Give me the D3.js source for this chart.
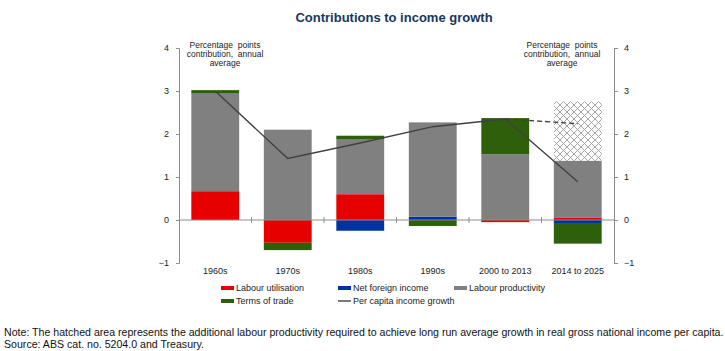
<!DOCTYPE html>
<html><head><meta charset="utf-8">
<script src="https://cdn.jsdelivr.net/npm/d3@7"></script>
<style>body{margin:0;background:#fff}svg{display:block}</style>
</head><body>
<script>
const categories = ["1960s","1970s","1980s","1990s","2000 to 2013","2014 to 2025"];
const labourUtilisation = [0.67, -0.53, 0.60, 0, -0.05, 0.06];
const netForeignIncome = [0, 0, -0.25, 0.08, 0, -0.09];
const labourProductivity = [2.27, 2.10, 1.27, 2.19, 1.53, 1.32];
const termsOfTrade = [0.08, -0.17, 0.09, -0.14, 0.84, -0.46];
const additionalProductivity = [0, 0, 0, 0, 0, 1.38];
const perCapitaGrowth = [3.0, 1.43, 1.79, 2.17, 2.35, 0.89];
const longRunPath = [null, null, null, null, 2.35, 2.24];
const yTicks = [-1, 0, 1, 2, 3, 4];

const W = 725, H = 351;
const font = "'Liberation Sans', Arial, sans-serif";
const svg = d3.select("body").append("svg").attr("width", W).attr("height", H)
  .style("font-family", font);

const defs = svg.append("defs");
const pat = defs.append("pattern").attr("id","hatch").attr("patternUnits","userSpaceOnUse")
  .attr("width",7).attr("height",7);
pat.append("rect").attr("width",7).attr("height",7).attr("fill","#fff");
pat.append("path").attr("d","M0,0L7,7M7,0L0,7").attr("stroke","#9a9a9a").attr("stroke-width",0.9);

const x = d3.scaleBand().domain(categories).range([179, 614]).paddingInner(0.34).paddingOuter(0.17);
const y = d3.scaleLinear().domain([-1, 4]).range([263, 48]);

const keys = ["lu","nfi","lp","tot","add"];
const colors = {lu:"#e60000", nfi:"#0033a1", lp:"#808080", tot:"#2e5f0a", add:"url(#hatch)"};
const rows = categories.map((c,i)=>({cat:c, lu:labourUtilisation[i], nfi:netForeignIncome[i],
  lp:labourProductivity[i], tot:termsOfTrade[i], add:additionalProductivity[i]}));
const series = d3.stack().keys(keys).offset(d3.stackOffsetDiverging)(rows);

// title
svg.append("text").attr("x", 394).attr("y", 22).attr("text-anchor","middle")
  .attr("font-size", 13).attr("font-weight","bold").attr("fill","#17375e")
  .text("Contributions to income growth");

// bars
svg.append("g").selectAll("g").data(series).join("g").attr("fill", d=>colors[d.key])
  .selectAll("rect").data(d=>d.filter(p=>p[1]!==p[0])).join("rect")
  .attr("x", d=>x(d.data.cat)).attr("width", x.bandwidth())
  .attr("y", d=>y(Math.max(d[0],d[1]))).attr("height", d=>Math.abs(y(d[0])-y(d[1])));

// axes
const axisColor = "#8c8c8c";
const leftAxis = d3.axisLeft(y).tickValues(yTicks).tickSize(3).tickPadding(7).tickFormat(d3.format("d"));
const rightAxis = d3.axisRight(y).tickValues(yTicks).tickSize(4).tickPadding(6).tickFormat(d3.format("d"));
const gl = svg.append("g").attr("transform","translate(179,0)").call(leftAxis);
const gr = svg.append("g").attr("transform","translate(614,0)").call(rightAxis);
[gl,gr].forEach(g=>{
  g.select(".domain").attr("stroke",axisColor);
  g.selectAll(".tick line").attr("stroke",axisColor);
  g.selectAll(".tick text").attr("font-size",9).attr("fill","#222").attr("font-family",font);
});

// zero line with category ticks
svg.append("line").attr("x1",179).attr("x2",614).attr("y1",y(0)).attr("y2",y(0)).attr("stroke",axisColor);
const step = x.step();
svg.append("g").selectAll("line").data(categories.slice(1)).join("line")
  .attr("x1", d=>x(d) - (step - x.bandwidth())/2).attr("x2", d=>x(d) - (step - x.bandwidth())/2)
  .attr("y1", y(0)-3).attr("y2", y(0)+3).attr("stroke",axisColor);

// category labels
const bx = d3.axisBottom(x).tickSize(0).tickPadding(0);
const gb = svg.append("g").attr("transform",`translate(0,${y(-1)+5})`).call(bx);
gb.select(".domain").remove();
gb.selectAll(".tick text").attr("font-size",9).attr("fill","#222").attr("font-family",font);

// line
const cx = d => x(d) + x.bandwidth()/2;
const line = d3.line().defined(d=>d[1]!=null).x(d=>cx(d[0])).y(d=>y(d[1]));
svg.append("path").datum(categories.map((c,i)=>[c,perCapitaGrowth[i]]))
  .attr("d", line).attr("fill","none").attr("stroke","#404040").attr("stroke-width",1.4);
svg.append("path").datum(categories.map((c,i)=>[c,longRunPath[i]]))
  .attr("d", line).attr("fill","none").attr("stroke","#404040").attr("stroke-width",1.4)
  .attr("stroke-dasharray","5,3");

// annotations
function annot(cxp){
  const t = svg.append("text").attr("text-anchor","middle").attr("font-size",8.5).attr("fill","#222");
  ["Percentage  points","contribution,  annual","average"].forEach((s,i)=>
    t.append("tspan").attr("x",cxp).attr("y",48+i*9).attr("xml:space","preserve").style("white-space","pre").text(s));
}
annot(225); annot(562);

// legend
const leg = [
  {label:"Labour utilisation", c:colors.lu, x:221, y:288},
  {label:"Net foreign income", c:colors.nfi, x:338, y:288},
  {label:"Labour productivity", c:colors.lp, x:454, y:288},
  {label:"Terms of trade", c:colors.tot, x:221, y:301},
  {label:"Per capita income growth", c:"#404040", x:338, y:301, line:true}
];
const lg = svg.append("g");
leg.forEach(d=>{
  lg.append("rect").attr("x",d.x).attr("y",d.line? d.y-0.7 : d.y-2).attr("width",13)
    .attr("height",d.line?1.4:4).attr("fill",d.c);
  lg.append("text").attr("x",d.x+15).attr("y",d.y+3).attr("font-size",9).attr("fill","#222").text(d.label);
});

// notes
svg.append("text").attr("x",4).attr("y",336).attr("font-size",10.6).attr("fill","#111")
  .text("Note: The hatched area represents the additional labour productivity required to achieve long run average growth in real gross national income per capita.");
svg.append("text").attr("x",4).attr("y",348).attr("font-size",10.6).attr("fill","#111")
  .text("Source: ABS cat. no. 5204.0 and Treasury.");
</script>
</body></html>
